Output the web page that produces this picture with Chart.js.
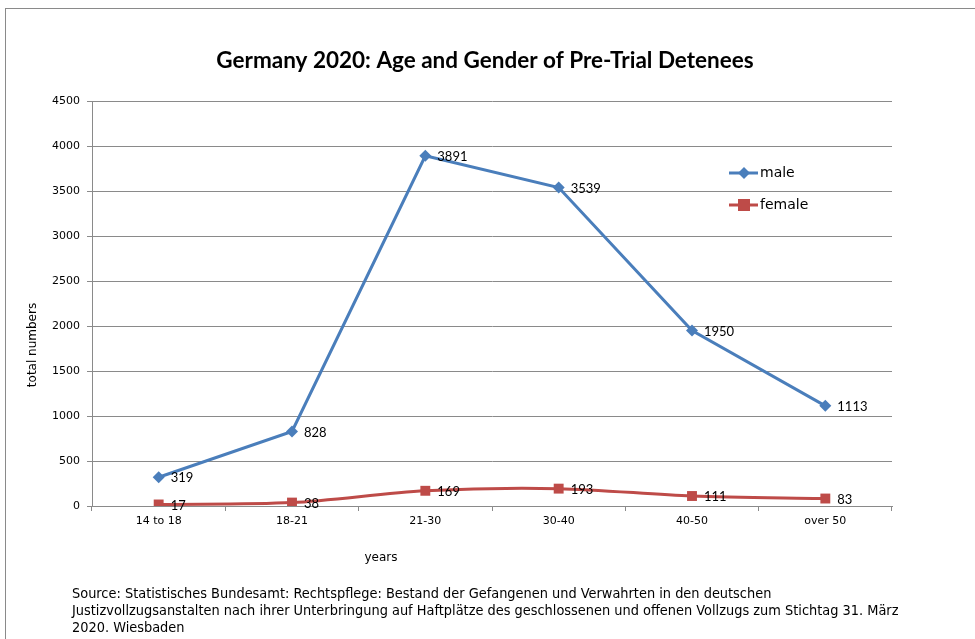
<!DOCTYPE html>
<html>
<head>
<meta charset="utf-8">
<script src="https://cdn.jsdelivr.net/npm/chart.js@4.4.0/dist/chart.umd.min.js"></script>
<style>
  body { margin: 0; background: #fff; }
  #wrap { position: relative; width: 975px; height: 639px; overflow: hidden; }
  #frame { position: absolute; left: 5px; top: 8px; width: 1000px; height: 700px; border: 1px solid #8a8a8a; }
  canvas { position: absolute; left: 0; top: 0; }
  #source { position: absolute; left: 72px; top: 585px; font-family: "DejaVu Sans Condensed", "DejaVu Sans", sans-serif; font-size: 14.4px; line-height: 17px; color: #000; width: 900px; white-space: nowrap; }
</style>
</head>
<body>
<div id="wrap">
  <div id="frame"></div>
  <canvas id="myChart" width="975" height="639"></canvas>
  <div id="source">Source: Statistisches Bundesamt: Rechtspflege: Bestand der Gefangenen und Verwahrten in den deutschen<br>Justizvollzugsanstalten nach ihrer Unterbringung auf Haftplätze des geschlossenen und offenen Vollzugs zum Stichtag 31. März<br>2020. Wiesbaden</div>
</div>
<script>
var categories = ["14 to 18", "18-21", "21-30", "30-40", "40-50", "over 50"];
var male = [319, 828, 3891, 3539, 1950, 1113];
var female = [17, 38, 169, 193, 111, 83];
var yTicks = [0, 500, 1000, 1500, 2000, 2500, 3000, 3500, 4000, 4500];

var blue = "#4a7ebb";
var red = "#be4b48";

// titles, data labels and legend drawn by hand
var extras = {
    id: "extras",
    afterDatasetsDraw: function (chart) {
        var ctx = chart.ctx;
        ctx.save();
        ctx.fillStyle = "#000";
        ctx.font = "13px Lato";
        ctx.textAlign = "left";
        ctx.textBaseline = "middle";
        chart.data.datasets.forEach(function (ds, i) {
            chart.getDatasetMeta(i).data.forEach(function (pt, j) {
                ctx.fillText(ds.data[j], pt.x + 12, pt.y + 1);
            });
        });

        ctx.font = "bold 22.5px Lato";
        ctx.textAlign = "center";
        ctx.fillText("Germany 2020: Age and Gender of Pre-Trial Detenees", 485, 61);

        ctx.font = "12px 'DejaVu Sans'";
        ctx.fillText("years", 381, 558);
        ctx.save();
        ctx.translate(33, 345);
        ctx.rotate(-Math.PI / 2);
        ctx.fillText("total numbers", 0, 0);
        ctx.restore();

        // legend
        var items = [["male", blue, "diamond", 173], ["female", red, "square", 205]];
        items.forEach(function (it) {
            var y = it[3];
            ctx.strokeStyle = it[1];
            ctx.lineWidth = 3;
            ctx.beginPath();
            ctx.moveTo(729, y);
            ctx.lineTo(758, y);
            ctx.stroke();
            ctx.fillStyle = it[1];
            if (it[2] == "diamond") {
                ctx.beginPath();
                ctx.moveTo(744, y - 6);
                ctx.lineTo(750, y);
                ctx.lineTo(744, y + 6);
                ctx.lineTo(738, y);
                ctx.closePath();
                ctx.fill();
            } else {
                ctx.fillRect(738, y - 6, 12, 12);
            }
            ctx.fillStyle = "#000";
            ctx.font = "14px 'DejaVu Sans'";
            ctx.textAlign = "left";
            ctx.fillText(it[0], 760, y);
        });
        ctx.restore();
    }
};

var chart = new Chart(document.getElementById("myChart").getContext("2d"), {
    type: "line",
    data: {
        labels: categories,
        datasets: [{
            label: "male",
            data: male,
            borderColor: blue,
            backgroundColor: blue,
            borderWidth: 3,
            pointStyle: "rectRot",
            pointRadius: 6,
            pointBorderWidth: 0,
            tension: 0
        }, {
            label: "female",
            data: female,
            borderColor: red,
            backgroundColor: red,
            borderWidth: 3,
            pointStyle: "rect",
            pointRadius: 7,
            pointBorderWidth: 0,
            tension: 0.3
        }]
    },
    options: {
        responsive: false,
        animation: false,
        layout: { padding: { top: 101, right: 83, bottom: 93, left: 0 } },
        plugins: {
            legend: { display: false },
            tooltip: { enabled: false }
        },
        scales: {
            x: {
                offset: true,
                grid: { offset: true, drawOnChartArea: false, drawTicks: true, tickLength: 5, color: "#8a8a8a" },
                border: { color: "#8a8a8a", width: 1 },
                ticks: { color: "#000", font: { family: "DejaVu Sans", size: 11 }, padding: 4, maxRotation: 0 },
                afterFit: function (s) { s.height = 40; }
            },
            y: {
                min: 0,
                max: 4500,
                afterBuildTicks: function (s) { s.ticks = yTicks.map(function (v) { return { value: v }; }); },
                grid: { color: "#8a8a8a", tickLength: 5 },
                border: { color: "#8a8a8a", width: 1 },
                ticks: {
                    color: "#000",
                    font: { family: "DejaVu Sans", size: 11 },
                    padding: 7,
                    callback: function (v) { return String(v); }
                },
                afterFit: function (s) { s.width = 92; }
            }
        }
    },
    plugins: [extras]
});
</script>
</body>
</html>
